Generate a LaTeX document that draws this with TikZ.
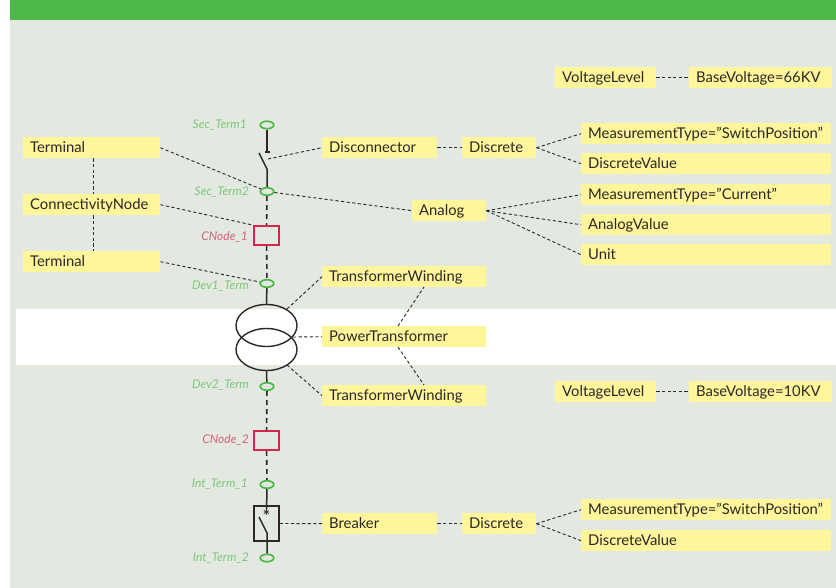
\documentclass[tikz,border=0pt]{standalone}
\usepackage{fontspec}
\setmainfont{Lato}
\definecolor{pagegrey}{HTML}{E3E8E1}
\definecolor{bandgreen}{HTML}{4DB848}
\definecolor{boxyellow}{HTML}{FFF59B}
\definecolor{termgreen}{HTML}{4DB848}
\definecolor{labgreen}{HTML}{7CC87A}
\definecolor{cnred}{HTML}{D2264A}
\definecolor{labred}{HTML}{D9607A}
\definecolor{inkk}{HTML}{2B2826}
\usetikzlibrary{shapes.geometric}
\tikzset{
 ybox/.style={fill=boxyellow,anchor=north west,minimum height=21pt,inner xsep=7pt,inner ysep=0pt,
   align=left,text height=12pt,text depth=2pt,font=\fontsize{14.8}{16}\selectfont,text=inkk},
 termnode/.style={ellipse,draw=termgreen,line width=1.7pt,minimum width=13.5pt,minimum height=7.5pt,inner sep=0pt},
 cnode/.style={rectangle,draw=cnred,line width=1.7pt,minimum width=25pt,minimum height=19pt,inner sep=0pt},
 glabel/.style={anchor=east,font=\fontsize{12}{14}\selectfont\itshape,text=labgreen,inner sep=0pt},
 rlabel/.style={anchor=east,font=\fontsize{12}{14}\selectfont\itshape,text=labred,inner sep=0pt},
 solidw/.style={draw=inkk,line width=1.5pt},
 busdash/.style={draw=inkk,line width=1.6pt,dash pattern=on 5pt off 4pt},
 conn/.style={draw=inkk,line width=0.9pt,dash pattern=on 3.2pt off 2.4pt},
 xfmr/.style={draw=inkk,line width=1.4pt},
}
\begin{document}
\begin{tikzpicture}[x=1pt,y=-1pt]
\useasboundingbox (0,0) rectangle (836,588);
\fill[white] (0,0) rectangle (836,588);
\fill[pagegrey] (10,20) rectangle (836,588);
\fill[bandgreen] (10,0) rectangle (836,20);
\fill[white] (16,309) rectangle (836,365);

% boxes
\node[ybox,text width=87pt] (vl1) at (555,67) {VoltageLevel};
\node[ybox,text width=129pt] (bv1) at (689,67) {BaseVoltage=66KV};
\node[ybox,text width=123pt] (t1) at (23,137) {Terminal};
\node[ybox,text width=123pt] (cn) at (23,194) {ConnectivityNode};
\node[ybox,text width=123pt] (t2) at (23,251) {Terminal};
\node[ybox,text width=101pt] (disc) at (322,137) {Disconnector};
\node[ybox,text width=60pt] (d1) at (462,137) {Discrete};
\node[ybox,text width=236pt] (mt1) at (581,123) {MeasurementType="SwitchPosition"};
\node[ybox,text width=236pt] (dv1) at (581,153) {DiscreteValue};
\node[ybox,text width=60pt] (an) at (412,200) {Analog};
\node[ybox,text width=236pt] (mt2) at (581,184) {MeasurementType="Current"};
\node[ybox,text width=236pt] (av) at (581,214) {AnalogValue};
\node[ybox,text width=236pt] (un) at (581,244) {Unit};
\node[ybox,text width=150pt] (tw1) at (322,266) {TransformerWinding};
\node[ybox,text width=150pt] (pt) at (322,326) {PowerTransformer};
\node[ybox,text width=150pt] (tw2) at (322,385) {TransformerWinding};
\node[ybox,text width=87pt] (vl2) at (555,381) {VoltageLevel};
\node[ybox,text width=129pt] (bv2) at (689,381) {BaseVoltage=10KV};
\node[ybox,text width=101pt] (br) at (322,513) {Breaker};
\node[ybox,text width=60pt] (d2) at (462,513) {Discrete};
\node[ybox,text width=236pt] (mt3) at (581,499) {MeasurementType="SwitchPosition"};
\node[ybox,text width=236pt] (dv2) at (581,530) {DiscreteValue};

% terminals and connectivity nodes
\node[termnode] (st1) at (267,125) {};
\node[termnode] (st2) at (267,191.5) {};
\node[termnode] (dv1t) at (267,283.5) {};
\node[termnode] (dv2t) at (267,386.5) {};
\node[termnode] (it1) at (267,484.5) {};
\node[termnode] (it2) at (267,558) {};
\node[cnode] (cn1) at (266.5,235.5) {};
\node[cnode] (cn2) at (266.5,440.5) {};
\node[rectangle,draw=inkk,line width=1.3pt,minimum width=25pt,minimum height=35pt,inner sep=0pt] (brk) at (266.5,523.5) {};

% labels
\node[glabel] (l1) at (247,125) {Sec\_Term1};
\node[glabel] (l2) at (249,192) {Sec\_Term2};
\node[rlabel] (l3) at (248,237) {CNode\_1};
\node[glabel] (l4) at (249,286) {Dev1\_Term};
\node[glabel] (l5) at (249,385) {Dev2\_Term};
\node[rlabel] (l6) at (249,440) {CNode\_2};
\node[glabel] (l7) at (248,484) {Int\_Term\_1};
\node[glabel] (l8) at (249,558) {Int\_Term\_2};

% transformer
\node[ellipse,xfmr,minimum width=61pt,minimum height=42pt,inner sep=0pt] (x1) at (266.5,325.5) {};
\node[ellipse,xfmr,minimum width=61pt,minimum height=42pt,inner sep=0pt] (x2) at (266.5,349.5) {};

% disconnector
\coordinate (dtop) at (267,152);
\coordinate (dleft) at (259,153);
\coordinate (dhinge) at (267,169);
\draw[solidw] (st1) -- (dtop);
\draw[solidw] ([xshift=-2.5pt]dtop) -- ([xshift=2.5pt]dtop);
\draw[solidw] (dleft) -- (dhinge) -- (st2);
% bus
\draw[busdash] (st2) -- (cn1);
\draw[busdash] (cn1) -- (dv1t);
\draw[solidw] (dv1t) -- (x1.north);
\draw[solidw] (x2.south) -- (dv2t);
\draw[busdash] (dv2t) -- (cn2);
\draw[busdash] (cn2) -- (it1);
% breaker
\node[font=\fontsize{17}{17}\selectfont\bfseries,text=inkk,inner sep=0pt] (star) at (266.5,516) {*};
\coordinate (bleft) at (259,517);
\coordinate (bhinge) at (267,533);
\draw[solidw] (it1) -- (star);
\draw[solidw] (bleft) -- (bhinge) -- (it2);

% connectors
\draw[conn] (vl1) -- (bv1);
\draw[conn] (vl2) -- (bv2);
\draw[conn] ([xshift=1.5pt]t1.south) -- ([xshift=1.5pt]cn.north);
\draw[conn] ([xshift=1.5pt]cn.south) -- ([xshift=1.5pt]t2.north);
\draw[conn] (t1.east) -- (st2);
\draw[conn] (cn.east) -- (cn1.north west);
\draw[conn] (t2.east) -- (dv1t);
\coordinate (dblade) at (268,159);
\draw[conn] (dblade) -- (disc.west);
\draw[conn] (disc) -- (d1);
\draw[conn] (d1.east) -- (mt1.west);
\draw[conn] (d1.east) -- (dv1.west);
\draw[conn] (st2) -- (an.west);
\draw[conn] (an.east) -- (mt2.west);
\draw[conn] (an.east) -- (av.west);
\draw[conn] (an.east) -- (un.west);
\coordinate (xa) at (287,309);
\coordinate (xb) at (287,365);
\coordinate (xc) at (293,337);
\draw[conn] (xa) -- (tw1.west);
\draw[conn] (xb) -- (tw2.west);
\draw[conn] (xc) -- (pt.west);
\coordinate (pa) at (398,326);
\coordinate (pb) at (398,347);
\coordinate (ta) at (424,287);
\coordinate (tb) at (424,385);
\draw[conn] (pa) -- (ta);
\draw[conn] (pb) -- (tb);
\draw[conn] (brk) -- (br);
\draw[conn] (br) -- (d2);
\draw[conn] (d2.east) -- (mt3.west);
\draw[conn] (d2.east) -- (dv2.west);
\end{tikzpicture}
\end{document}
